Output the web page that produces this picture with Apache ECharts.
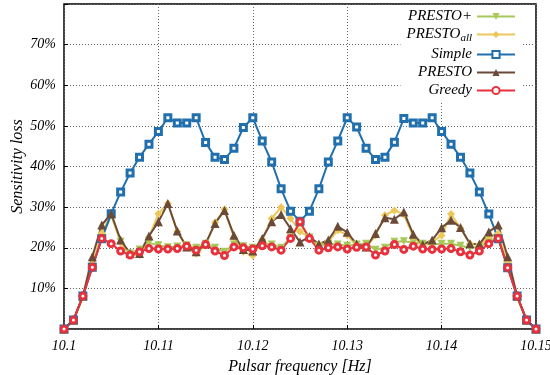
<!DOCTYPE html>
<html>
<head>
<meta charset="utf-8">
<title>Sensitivity loss</title>
<script src="https://cdn.jsdelivr.net/npm/echarts@6/dist/echarts.min.js"></script>
<style>
  html, body { margin: 0; padding: 0; background: #fff; }
  #main { width: 550px; height: 375px; }
</style>
</head>
<body>
<div id="main"></div>
<script>
// pulsar frequencies (Hz), one per sample
var freqs = [
  10.100, 10.101, 10.102, 10.103, 10.104, 10.105, 10.106, 10.107, 10.108, 10.109,
  10.110, 10.111, 10.112, 10.113, 10.114, 10.115, 10.116, 10.117, 10.118, 10.119,
  10.120, 10.121, 10.122, 10.123, 10.124, 10.125, 10.126, 10.127, 10.128, 10.129,
  10.130, 10.131, 10.132, 10.133, 10.134, 10.135, 10.136, 10.137, 10.138, 10.139,
  10.140, 10.141, 10.142, 10.143, 10.144, 10.145, 10.146, 10.147, 10.148, 10.149,
  10.150
];

// sensitivity loss in %
var prestoPlus = [
  0, 2.2, 8.1, 15.4, 22.5, 28.0, 21.5, 18.6, 19.6, 21.2,
  20.6, 20.1, 20.3, 20.6, 20.0, 21.0, 20.0, 19.0, 20.8, 20.4,
  20.0, 21.0, 20.8, 20.0, 22.5, 26.0, 22.5, 20.5, 21.0, 20.8,
  20.5, 20.8, 21.0, 19.5, 20.0, 21.5, 21.6, 21.3, 21.0, 20.8,
  21.0, 21.0, 20.5, 20.0, 20.2, 21.5, 22.5, 15.5, 8.1, 2.2,
  0
];
var prestoAll = [
  0, 2.0, 7.8, 16.0, 23.6, 28.4, 21.3, 18.2, 18.2, 22.5,
  28.4, 30.9, 24.0, 20.0, 18.5, 20.6, 26.2, 29.5, 22.5, 19.0,
  18.1, 22.0, 27.2, 30.0, 27.2, 24.0, 22.5, 20.8, 21.5, 24.3,
  23.1, 20.5, 20.0, 23.0, 28.0, 29.2, 28.2, 22.7, 20.5, 21.5,
  23.0, 28.3, 24.8, 21.0, 20.7, 22.7, 23.5, 16.5, 7.8, 2.0,
  0
];
var simple = [
  0, 2.2, 8.1, 15.2, 22.2, 28.4, 33.7, 38.4, 42.3, 45.5,
  48.6, 52.0, 50.7, 50.7, 52.0, 45.9, 42.3, 41.7, 44.5, 49.6,
  52.0, 46.3, 41.1, 34.5, 29.0, 26.5, 29.0, 34.5, 41.1, 46.3,
  52.0, 49.7, 44.5, 41.7, 42.3, 46.0, 51.8, 50.7, 50.7, 52.0,
  48.6, 45.5, 42.3, 38.4, 33.7, 28.3, 22.2, 15.1, 8.1, 2.2,
  0
];
var presto = [
  0, 2.2, 8.1, 17.8, 25.6, 28.4, 21.9, 18.6, 18.6, 22.9,
  26.4, 30.9, 24.1, 20.2, 19.0, 21.0, 26.0, 29.2, 23.1, 19.6,
  19.2, 22.3, 26.4, 28.2, 24.7, 21.4, 22.7, 20.9, 21.9, 25.3,
  23.8, 20.9, 20.2, 23.5, 27.4, 27.0, 28.8, 23.3, 20.8, 21.9,
  24.9, 26.8, 25.0, 21.0, 20.9, 23.9, 25.6, 17.8, 8.1, 2.2,
  0
];
var greedy = [
  0, 2.2, 8.1, 15.2, 22.3, 21.0, 19.2, 18.2, 19.0, 19.8,
  19.7, 19.7, 19.8, 20.4, 19.4, 20.8, 19.2, 18.1, 20.2, 20.0,
  19.7, 20.5, 20.2, 19.4, 22.3, 26.4, 22.3, 19.4, 20.0, 20.2,
  19.7, 20.1, 20.2, 18.2, 19.2, 20.8, 19.6, 20.4, 19.7, 19.6,
  19.7, 19.8, 19.0, 18.2, 19.2, 21.0, 22.3, 15.1, 8.1, 2.2,
  0
];

var font = '"Liberation Serif", "DejaVu Serif", serif';

function pairs(ys) {
  var out = [];
  for (var i = 0; i < ys.length; i++) out.push([freqs[i], ys[i]]);
  return out;
}

function mkSeries(name, ys, color, symbol, size, hollow, rotate, bw) {
  return {
    name: name,
    type: 'line',
    data: pairs(ys),
    symbol: symbol,
    symbolSize: size,
    symbolRotate: rotate || 0,
    showAllSymbol: true,
    lineStyle: { color: color, width: 2 },
    itemStyle: hollow
      ? { color: '#fff', borderColor: color, borderWidth: bw || 2.5 }
      : { color: color, borderColor: color, borderWidth: 0 },
    emphasis: { disabled: true },
    animation: false
  };
}

var myChart = echarts.init(document.getElementById('main'));

var option = {
  animation: false,
  grid: {
    left: 64, right: 14, top: 4, bottom: 46,
    outerBoundsMode: 'none',
    containLabel: false,
    show: true, borderColor: '#000', borderWidth: 1.5, backgroundColor: 'transparent'
  },
  legend: {
    orient: 'vertical',
    right: 28,
    top: 5,
    align: 'right',
    itemWidth: 38,
    itemHeight: 9,
    itemGap: 3,
    padding: [4, 6, 4, 6],
    backgroundColor: '#fff',
    textStyle: {
      fontFamily: font, fontStyle: 'italic', fontSize: 15, color: '#000',
      rich: {
        sub: { fontFamily: font, fontStyle: 'italic', fontSize: 11, color: '#000', padding: [8, 0, 0, 0] }
      }
    },
    formatter: function (name) {
      return name === 'PRESTO_all' ? 'PRESTO{sub|all}' : name;
    },
    data: ['PRESTO+', 'PRESTO_all', 'Simple', 'PRESTO', 'Greedy']
  },
  xAxis: {
    type: 'value',
    min: 10.1,
    max: 10.15,
    interval: 0.01,
    name: 'Pulsar frequency [Hz]',
    nameLocation: 'middle',
    nameGap: 30,
    nameMoveOverlap: false,
    nameTextStyle: { fontFamily: font, fontStyle: 'italic', fontSize: 16, color: '#000' },
    axisLine: { show: false },
    axisTick: { show: true, inside: true, length: 4, lineStyle: { color: '#000' } },
    axisLabel: {
      fontFamily: font, fontStyle: 'italic', fontSize: 14, color: '#000', margin: 10,
      formatter: function (v) { return String(+v.toFixed(3)); }
    },
    splitLine: { show: true, lineStyle: { color: '#666', type: [1, 2], width: 1 } }
  },
  yAxis: {
    type: 'value',
    min: 0,
    max: 80,
    interval: 10,
    name: 'Sensitivity loss',
    nameLocation: 'middle',
    nameGap: 38,
    nameMoveOverlap: false,
    nameTextStyle: { fontFamily: font, fontStyle: 'italic', fontSize: 16, color: '#000' },
    axisLine: { show: false },
    axisTick: { show: true, inside: true, length: 4, lineStyle: { color: '#000' } },
    axisLabel: {
      fontFamily: font, fontStyle: 'italic', fontSize: 14, color: '#000', margin: 8,
      formatter: function (v) { return (v === 0 || v === 80) ? '' : v + '%'; }
    },
    splitLine: { show: true, lineStyle: { color: '#666', type: [1, 2], width: 1 } }
  },
  series: [
    mkSeries('PRESTO+', prestoPlus, '#a8c85a', 'triangle', 8, false, 180),
    mkSeries('PRESTO_all', prestoAll, '#ecc85a', 'diamond', 8, false),
    mkSeries('Simple', simple, '#2170ad', 'rect', 6, true, 0, 3),
    mkSeries('PRESTO', presto, '#6b4a38', 'triangle', 9, false),
    mkSeries('Greedy', greedy, '#e8313c', 'circle', 6, true, 0, 3)
  ]
};

myChart.setOption(option);
</script>
</body>
</html>
